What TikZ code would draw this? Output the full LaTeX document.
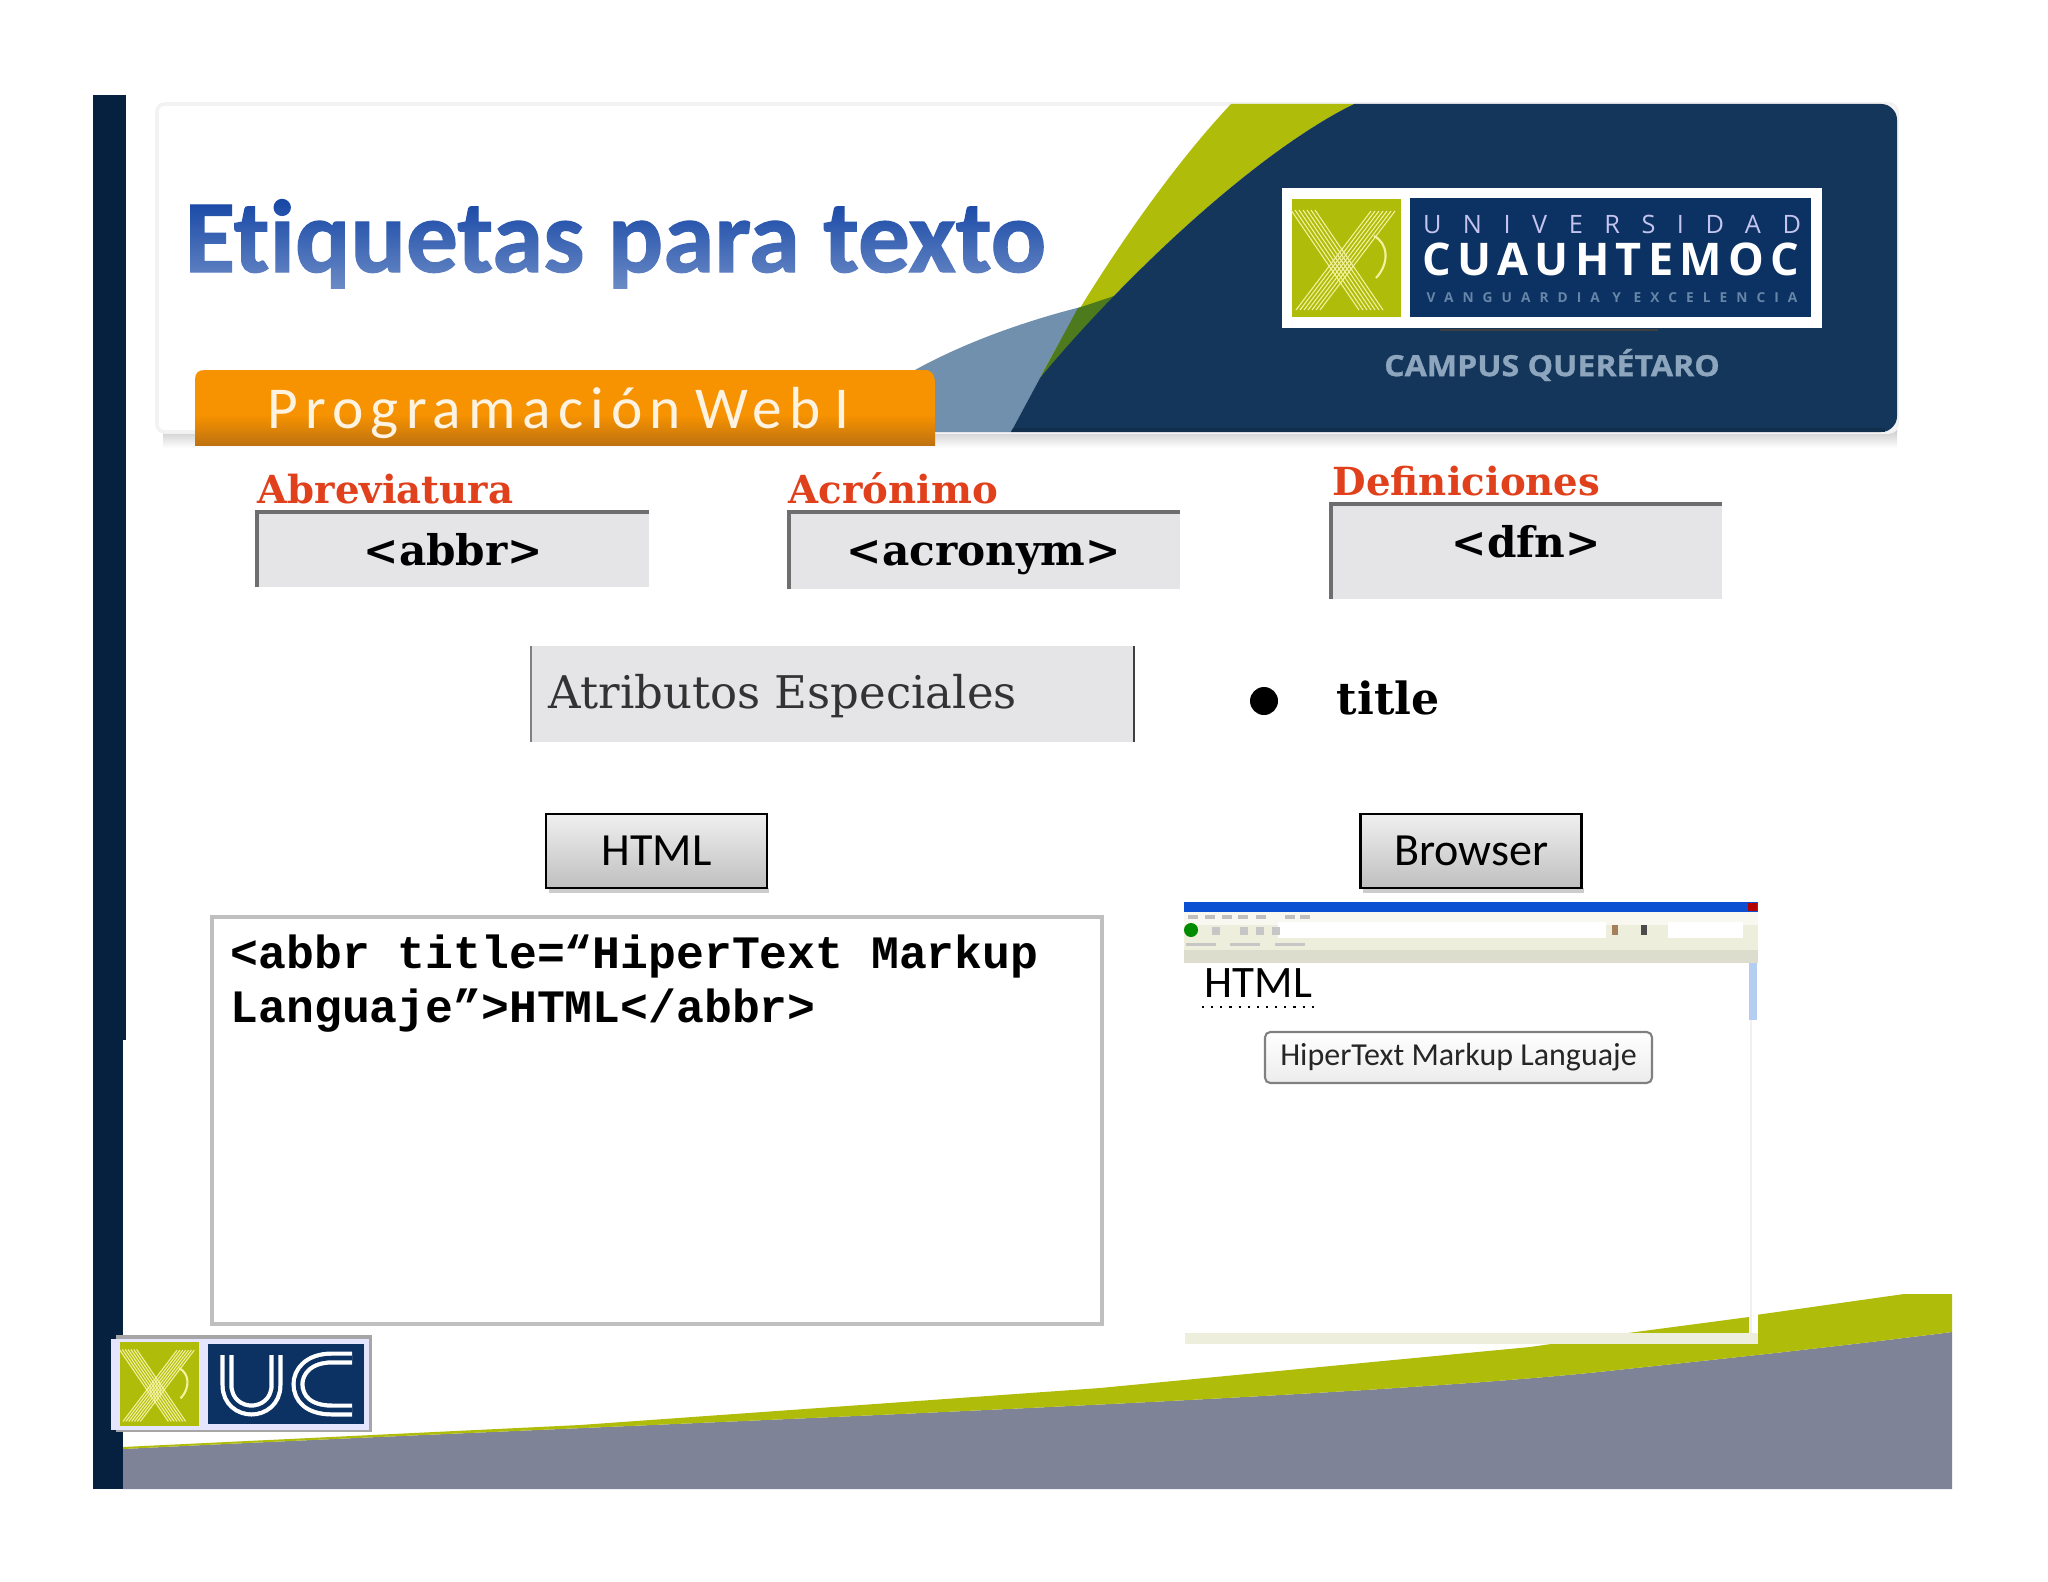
\documentclass[tikz,border=0pt]{standalone}
\usepackage{fontspec}
\usepackage{xcolor}
\usepackage{tikz}
\usetikzlibrary{fadings,shadings}
\setmainfont{Carlito}
\newfontfamily\tagfont{DejaVu Serif}
\newfontfamily\codefont{Liberation Mono}
\newfontfamily\logofont{Open Sans}
\newfontfamily\campusfont[FakeBold=1,FakeStretch=1.1]{Open Sans Bold}
\newfontfamily\titlefont[FakeBold=1.2,Ligatures=NoCommon]{Carlito Bold}
\newcommand{\fs}[1]{\fontsize{#1pt}{#1pt}\selectfont}
\definecolor{barnavy}{HTML}{06213F}
\definecolor{navy}{HTML}{14365A}
\definecolor{logonavy}{HTML}{0C3163}
\definecolor{olive}{HTML}{B0BC0A}
\definecolor{dkgreen}{HTML}{4E7A1E}
\definecolor{steel}{HTML}{7090AE}
\definecolor{slate}{HTML}{7E8398}
\definecolor{orange1}{HTML}{F79200}
\definecolor{orange2}{HTML}{BE7210}
\definecolor{tagred}{HTML}{E0401C}
\definecolor{tagfill}{HTML}{E5E5E8}
\definecolor{tagedge}{HTML}{6E6E6E}
\definecolor{beige}{HTML}{EEEEDC}
\definecolor{cream}{HTML}{F4F2A0}
\definecolor{titleblue}{HTML}{1748A6}
\definecolor{barblue}{HTML}{0B50D2}
\definecolor{scrollblue}{HTML}{B4CDF0}
\tikzfading[name=titlefade, top color=transparent!100, bottom color=transparent!62]
\tikzset{
  btn/.style={draw=black, line width=2.6pt*0.28, top color=gray!12, bottom color=gray!50, minimum height=74*0.01cm, inner sep=0pt, font=\fs{13.1}},
  tagbox/.style={fill=tagfill, draw=none},
  tagedge/.style={draw=tagedge, line width=1.1pt},
  redlab/.style={anchor=base west, inner sep=0pt, text=tagred, font=\tagfont\bfseries\fs{11}},
  taglab/.style={anchor=base west, inner sep=0pt, text=black, font=\tagfont\bfseries\fs{12}},
  codelab/.style={anchor=base west, inner sep=0pt, font=\codefont\bfseries\fs{13.2}},
  eagle/.pic={
    \fill[olive] (-54,-59) rectangle (55,59);
    \foreach \d in {-12,-8,-4,0,4,8,12} {
      \draw[cream, line width=0.3pt] (-43+\d,-48) -- (25+\d,52);
      \draw[cream, line width=0.3pt] (37+\d,-47) -- (-38+\d,52);
    }
    \draw[cream, line width=0.6pt] (28,-22) .. controls (42,-15) and (44,5) .. (30,20);
  },
}
\begin{document}
\begin{tikzpicture}[x=0.01cm,y=-0.01cm]
  \useasboundingbox (0,0) rectangle (2048,1582);
  \fill[white] (0,0) rectangle (2048,1582);

  % side bar and bottom wave
  \fill[barnavy] (93,95) rectangle (126,1040);
  \fill[barnavy] (93,1040) rectangle (123,1489);
  \fill[slate] (123,1449) .. controls (600,1425) and (1350,1400) .. (1617,1370)
    .. controls (1750,1356) and (1850,1345) .. (1952,1332) -- (1952,1489) -- (123,1489) -- cycle;
  \fill[olive] (123,1447) -- (580,1425) -- (1100,1388) -- (1530,1347) -- (1904,1294) -- (1952,1294)
    -- (1952,1332) .. controls (1850,1345) and (1750,1356) .. (1617,1370)
    .. controls (1350,1400) and (600,1425) .. (123,1449) -- cycle;

  % header
  \shade[top color=gray!45, bottom color=white] (163,428) rectangle (1897,448);
  \fill[white, draw=gray!10, line width=1pt, rounded corners=2.2pt] (157,104) rectangle (1897,432);
  \fill[steel] (915,370) .. controls (960,345) and (1020,322) .. (1085,306) -- (1040,378) -- (1011,432) -- (930,432) -- cycle;
  \fill[olive] (1231,104) -- (1354,104) .. controls (1260,150) and (1130,270) .. (1040,378)
    .. controls (1070,320) and (1150,190) .. (1231,104) -- cycle;
  \fill[dkgreen] (1078,308) -- (1114,296) -- (1040,378) -- cycle;
  \begin{scope}
    \clip (1011,432) -- (1040,378) .. controls (1130,270) and (1260,150) .. (1354,104) -- (1960,104) -- (1960,440) -- (1011,440) -- cycle;
    \fill[navy, rounded corners=4.5pt] (900,104) rectangle (1897,432);
    \fill[navy!85!black] (900,428) rectangle (1885,432);
  \end{scope}

  % orange tab
  \fill[orange1] (195,415) -- (195,380) .. controls (195,373) and (198,370) .. (205,370) -- (925,370) .. controls (932,370) and (935,375) .. (935,384) -- (935,415) -- cycle;
  \shade[top color=orange1, bottom color=orange2] (195,415) rectangle (935,445);
  \node[anchor=base west, inner sep=0pt, text=white!88!orange1, font=\fs{16.9}\addfontfeature{LetterSpace=12}] (webtab) at (267,428) {Programación\hspace{-1.9pt} Web\hspace{-1.9pt} I};

  % title
  \node[anchor=base west, inner sep=0pt, text=titleblue, font=\titlefont\fs{29.4}] (maintitle) at (184,272) {Etiquetas para texto};
  \fill[white, path fading=titlefade] (180,200) rectangle (1060,292);

  % big logo
  \fill[white] (1282,188) rectangle (1822,328);
  \fill[logonavy] (1410,198) rectangle (1811,317);
  \pic at (1346,258) {eagle};
  \fill[black!75] (1440,329) rectangle (1658,331);
  \node[inner sep=0pt, text=gray!45!blue!30!white, font=\logofont\fs{7.2}\addfontfeature{LetterSpace=85}] (uni) at (1612,224) {UNIVERSIDAD};
  \node[inner sep=0pt, text=white, font=\logofont\bfseries\fs{12.8}\addfontfeature{LetterSpace=14}] (cua) at (1611,259) {CUAUHTEMOC};
  \node[inner sep=0pt, text=steel!90!logonavy, font=\logofont\bfseries\fs{3.9}\addfontfeature{LetterSpace=66}] (vang) at (1612,298) {VANGUARDIA Y EXCELENCIA};
  \node[inner sep=0pt, text=steel!80!white, font=\campusfont\fs{8.3}] (campus) at (1552,365) {CAMPUS QUERÉTARO};

  % tag boxes
  \fill[tagbox] (255,510) rectangle (649,587);
  \draw[tagedge] (257,587) -- (257,512) -- (649,512);
  \node[redlab] (abre) at (257,503) {Abreviatura};
  \node[taglab] (abbr) at (363,565) {<abbr>};
  \fill[tagbox] (788,510) rectangle (1180,589);
  \draw[tagedge] (789,589) -- (789,512) -- (1180,512);
  \node[redlab] (acro) at (788,503) {Acrónimo};
  \node[taglab] (acronym) at (846,565) {<acronym>};
  \fill[tagbox] (1329,502) rectangle (1722,599);
  \draw[tagedge] (1331,599) -- (1331,504) -- (1722,504);
  \node[redlab] (defi) at (1332,495) {Definiciones};
  \node[taglab] (dfn) at (1451,557) {<dfn>};

  % special attributes
  \fill[tagbox] (530,646) rectangle (1135,742);
  \draw[draw=gray, line width=0.4pt] (531,646) -- (531,742);
  \draw[draw=black!75, line width=0.8pt] (1134,646) -- (1134,742);
  \node[anchor=base west, inner sep=0pt, text=black!80, font=\tagfont\fs{12.8}] (attrs) at (548,708) {Atributos Especiales};
  \fill[black] (1264,701) circle (14);
  \node[taglab, font=\tagfont\bfseries\fs{12.6}] (attrtitle) at (1336,714) {title};

  % buttons
  \fill[gray!40] (549,888) rectangle (769,893);
  \fill[gray!40] (1363,888) rectangle (1584,893);
  \node[btn, minimum width=221*0.01cm] (htmlbtn) at (656.5,851) {HTML};
  \node[btn, minimum width=221*0.01cm] (browserbtn) at (1471,851) {Browser};

  % code box
  \draw[draw=gray!50, line width=1.1pt, fill=white] (212,917) rectangle (1102,1324);
  \node[codelab] (code1) at (230,968) {<abbr title=“HiperText Markup};
  \node[codelab] (code2) at (230,1022) {Languaje”>HTML</abbr>};

  % browser window
  \fill[white] (1184,902) rectangle (1758,1344);
  \fill[beige] (1184,925) rectangle (1758,963);
  \fill[white!60!beige] (1184,912) rectangle (1758,925);
  \fill[barblue] (1184,902) rectangle (1758,912);
  \fill[red!70!black] (1748,903) rectangle (1757,911);
  \fill[white] (1278,922) rectangle (1606,938);
  \fill[white] (1668,922) rectangle (1743,938);
  \fill[green!55!black] (1191,930) circle (7);
  \fill[beige!85!gray] (1184,950) rectangle (1758,963);
  \foreach \x in {1188,1205,1222,1238,1256,1285,1300} \fill[gray!50] (\x,915) rectangle (\x+10,919);
  \foreach \x in {1212,1240,1256,1272} \fill[gray!45] (\x,927) rectangle (\x+8,935);
  \foreach \x in {1186,1230,1275} \fill[gray!45] (\x,943) rectangle (\x+30,946);
  \fill[gray!70!orange] (1612,925) rectangle (1618,935);
  \fill[black!70] (1641,925) rectangle (1647,935);
  \fill[scrollblue] (1749,963) rectangle (1757,1020);
  \draw[gray!12, line width=0.3pt] (1751,1020) -- (1751,1333);
  \fill[olive] (1628,1333) -- (1749,1317) -- (1749,1333) -- cycle;
  \fill[beige] (1185,1333) rectangle (1758,1344);
  \node[anchor=base west, inner sep=0pt, font=\fs{12.8}] (htmltxt) at (1204,997) {HTML};
  \draw[black, dotted, line width=0.6pt] (1202,1007) -- (1315,1007);
  \node[draw=gray, line width=0.6pt, rounded corners=1.5pt, top color=white, bottom color=gray!15, minimum width=387*0.01cm, minimum height=51*0.01cm, inner sep=0pt, text=black!85, font=\fs{9.1}] (tooltip) at (1458.5,1057.5) {HiperText Markup Languaje};

  % small logo
  \fill[gray!70] (116,1335) rectangle (372,1432);
  \fill[white!90!blue] (111,1339) rectangle (369,1430);
  \fill[logonavy] (208,1344) rectangle (364,1424);
  \pic[scale=0.72] at (159,1384) {eagle};
  \draw[white, line width=3.7pt] (227,1355) -- (227,1385) .. controls (227,1402) and (240,1410) .. (251.5,1410) .. controls (263,1410) and (276,1402) .. (276,1385) -- (276,1355);
  \draw[logonavy, line width=1.3pt] (227,1355) -- (227,1385) .. controls (227,1402) and (240,1410) .. (251.5,1410) .. controls (263,1410) and (276,1402) .. (276,1385) -- (276,1355);
  \draw[white, line width=3.7pt] (352,1358) -- (332,1358) .. controls (308,1358) and (298,1372) .. (298,1384) .. controls (298,1398) and (308,1410) .. (332,1410) -- (352,1410);
  \draw[logonavy, line width=1.3pt] (352,1358) -- (332,1358) .. controls (308,1358) and (298,1372) .. (298,1384) .. controls (298,1398) and (308,1410) .. (332,1410) -- (352,1410);
\end{tikzpicture}
\end{document}
